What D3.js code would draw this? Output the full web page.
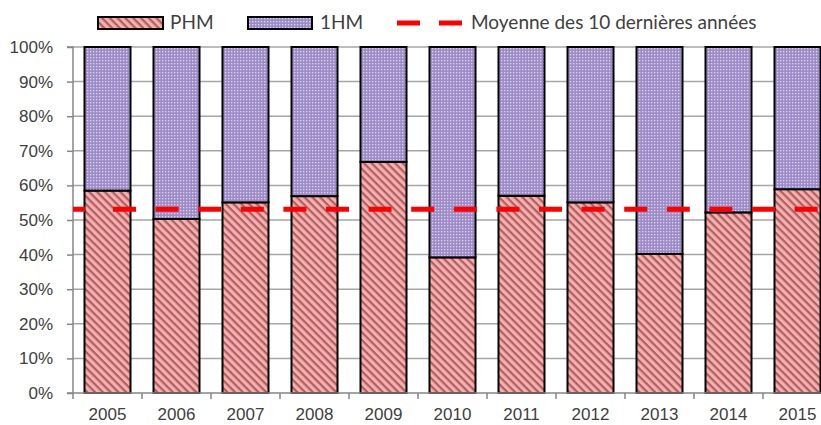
<!DOCTYPE html>
<html lang="fr">
<head>
  <meta charset="UTF-8">
  <title>PHM / 1HM</title>
  <script src="https://d3js.org/d3.v7.min.js"></script>
  <style>
    body { margin: 0; background: #ffffff; }
    svg { display: block; font-family: Lato, 'Open Sans', sans-serif; }
    .axis text { fill: #404040; font-size: 17px; }
    .legend text { fill: #404040; font-size: 19px; }
  </style>
</head>
<body>
<svg width="821" height="425"></svg>
<script>
// données
const annees = ["2005", "2006", "2007", "2008", "2009", "2010", "2011", "2012", "2013", "2014", "2015"];
const phm = [0.585, 0.503, 0.551, 0.569, 0.668, 0.392, 0.570, 0.551, 0.402, 0.522, 0.589];
const moyenne = 0.531;
const yTicks = [0, 0.1, 0.2, 0.3, 0.4, 0.5, 0.6, 0.7, 0.8, 0.9, 1];

const svg = d3.select("svg");
const mLeft = 73, mRight = 832, mTop = 47, mBottom = 393;

const x = d3.scaleBand()
  .domain(annees)
  .range([mLeft, mRight])
  .paddingInner(1 / 3)
  .paddingOuter(1 / 6);

const y = d3.scaleLinear().domain([0, 1]).range([mBottom, mTop]);

// motifs
const defs = svg.append("defs");
const pRose = defs.append("pattern")
  .attr("id", "hachure")
  .attr("patternUnits", "userSpaceOnUse")
  .attr("width", 5.5).attr("height", 5.5)
  .attr("patternTransform", "rotate(45)");
pRose.append("rect").attr("width", 5.5).attr("height", 5.5).attr("fill", "#efb2b2");
pRose.append("rect").attr("width", 5.5).attr("height", 2.2).attr("fill", "#b95a5a");

const pViolet = defs.append("pattern")
  .attr("id", "points")
  .attr("patternUnits", "userSpaceOnUse")
  .attr("width", 3).attr("height", 3);
pViolet.append("rect").attr("width", 3).attr("height", 3).attr("fill", "#9d8cc8");
pViolet.append("rect").attr("width", 1.3).attr("height", 1.3).attr("fill", "#dcd4ee");

// grille
svg.append("g")
  .selectAll("line")
  .data(yTicks.slice(1))
  .join("line")
  .attr("x1", mLeft).attr("x2", mRight)
  .attr("y1", d => y(d)).attr("y2", d => y(d))
  .attr("stroke", "#a6a6a6")
  .attr("stroke-width", 1.5);

// barres
const bars = svg.append("g");
bars.selectAll("rect.phm")
  .data(annees)
  .join("rect")
  .attr("class", "phm")
  .attr("x", d => x(d))
  .attr("width", x.bandwidth())
  .attr("y", (d, i) => y(phm[i]))
  .attr("height", (d, i) => y(0) - y(phm[i]))
  .attr("fill", "url(#hachure)")
  .attr("stroke", "#000")
  .attr("stroke-width", 2);

bars.selectAll("rect.hm")
  .data(annees)
  .join("rect")
  .attr("class", "hm")
  .attr("x", d => x(d))
  .attr("width", x.bandwidth())
  .attr("y", y(1))
  .attr("height", (d, i) => y(phm[i]) - y(1))
  .attr("fill", "url(#points)")
  .attr("stroke", "#000")
  .attr("stroke-width", 2);

// axes
const yAxis = svg.append("g")
  .attr("class", "axis")
  .attr("transform", `translate(${mLeft},0)`)
  .call(d3.axisLeft(y).tickValues(yTicks).tickFormat(d3.format(".0%")).tickSize(6).tickPadding(14));
yAxis.selectAll("line, path").attr("stroke", "#868686").attr("stroke-width", 1.5);
yAxis.select(".domain").attr("d", `M-6,${mBottom}H0V${mTop}H-6`);

const xAxis = svg.append("g")
  .attr("class", "axis")
  .attr("transform", `translate(0,${mBottom})`)
  .call(d3.axisBottom(x).tickSize(0).tickPadding(15));
xAxis.select(".domain").attr("stroke", "#868686").attr("stroke-width", 1.5).attr("d", `M${mLeft},0H${mRight}`);
xAxis.selectAll("line.sep")
  .data(annees)
  .join("line")
  .attr("class", "sep")
  .attr("x1", d => x(d) - x.bandwidth() / 4)
  .attr("x2", d => x(d) - x.bandwidth() / 4)
  .attr("y1", 0).attr("y2", 6)
  .attr("stroke", "#868686").attr("stroke-width", 1.5);

// ligne moyenne
let dash = [12, 28];
for (let i = 0; i < 20; i++) dash.push(23, 19.6);
svg.append("line")
  .attr("x1", mLeft).attr("x2", mRight)
  .attr("y1", y(moyenne)).attr("y2", y(moyenne))
  .attr("stroke", "#ff0000")
  .attr("stroke-width", 5)
  .attr("stroke-dasharray", dash.join(","));

// légende
const lg = svg.append("g").attr("class", "legend");
lg.append("rect").attr("x", 98).attr("y", 17).attr("width", 65).attr("height", 12)
  .attr("fill", "url(#hachure)").attr("stroke", "#000").attr("stroke-width", 2);
lg.append("text").attr("x", 170).attr("y", 29).text("PHM");
lg.append("rect").attr("x", 248).attr("y", 17).attr("width", 64).attr("height", 12)
  .attr("fill", "url(#points)").attr("stroke", "#000").attr("stroke-width", 2);
lg.append("text").attr("x", 320).attr("y", 29).text("1HM");
lg.append("line").attr("x1", 397).attr("x2", 462).attr("y1", 23).attr("y2", 23)
  .attr("stroke", "#ff0000").attr("stroke-width", 5).attr("stroke-dasharray", "23,19");
lg.append("text").attr("x", 471).attr("y", 29).text("Moyenne des 10 dernières années");
</script>
</body>
</html>
